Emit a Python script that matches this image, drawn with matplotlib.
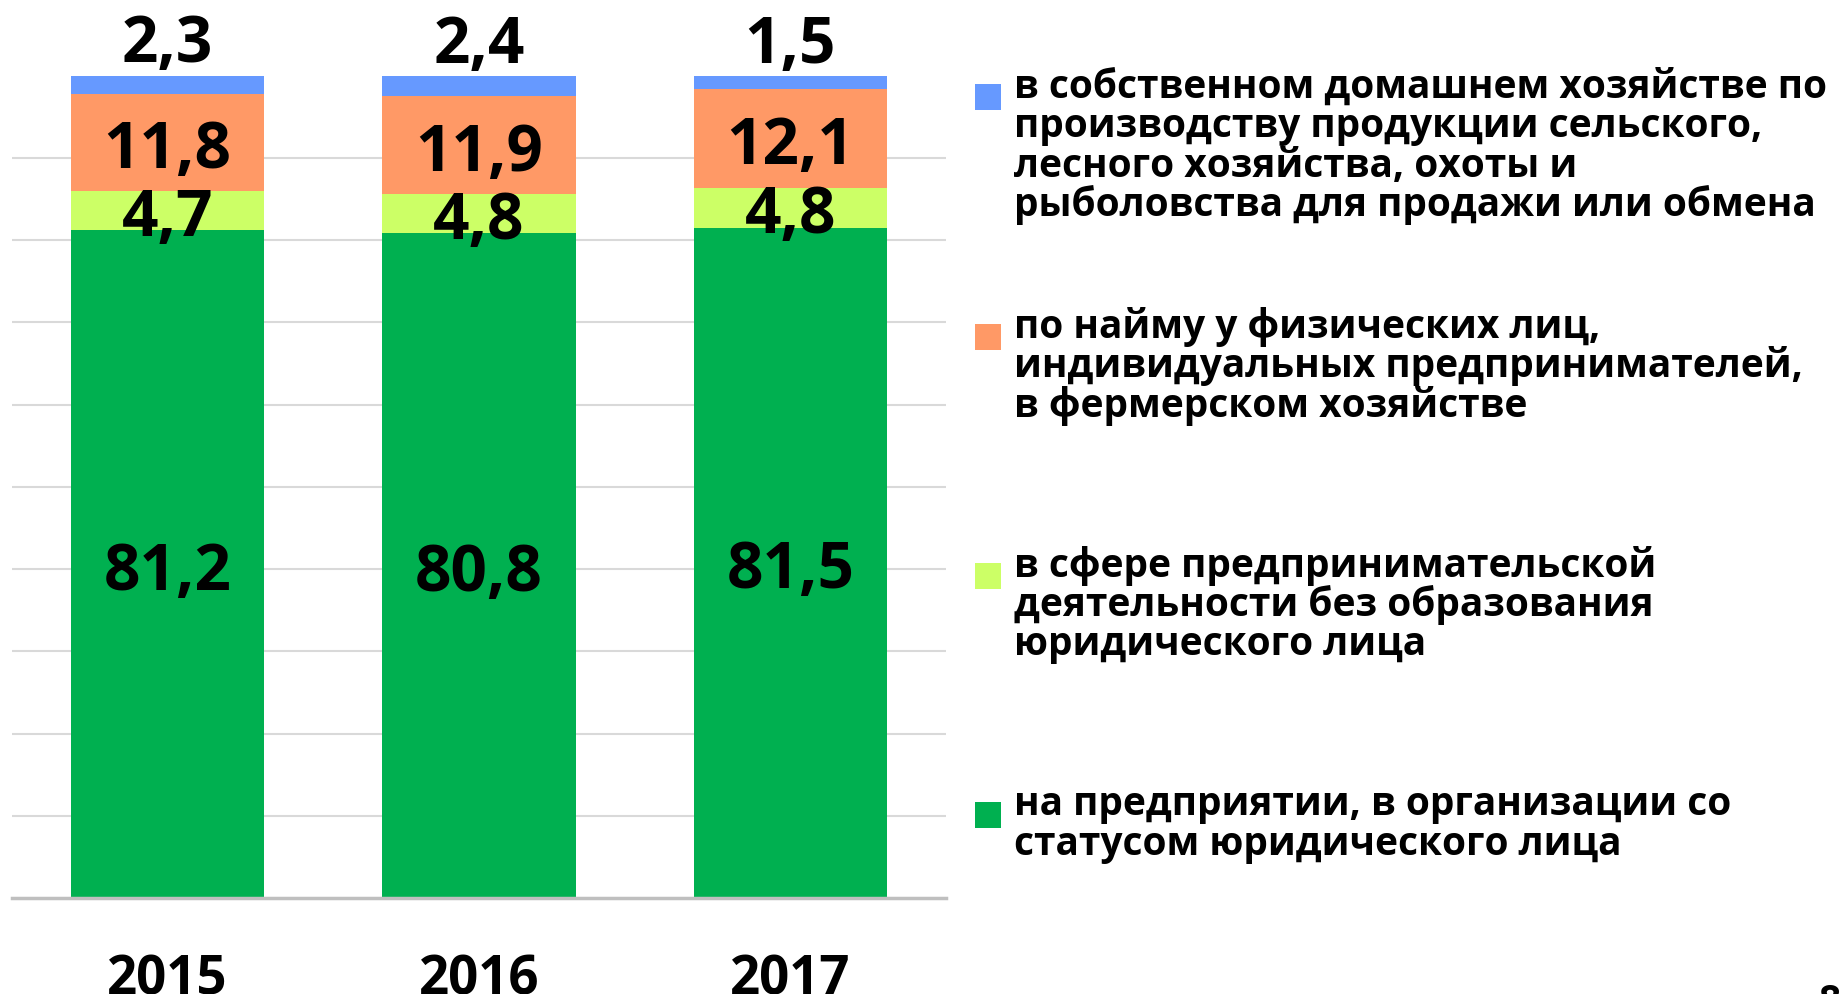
import numpy as np
import matplotlib
matplotlib.use("Agg")
import matplotlib.pyplot as plt
from matplotlib.patches import Rectangle

# bold narrow-ish sans, close to the Calibri look of the slide
plt.rcParams['font.family'] = ['Open Sans', 'DejaVu Sans']
plt.rcParams['font.weight'] = 'bold'

years = ["2015", "2016", "2017"]
legal_entity = [81.2, 80.8, 81.5]   # на предприятии ...
no_entity = [4.7, 4.8, 4.8]         # в сфере предпринимательской ...
hired = [11.8, 11.9, 12.1]          # по найму ...
household = [2.3, 2.4, 1.5]         # в собственном домашнем хозяйстве ...

series_values = [legal_entity, no_entity, hired, household]
series_colors = ["#00B050", "#CCFF66", "#FF9966", "#6699FF"]
series_labels = [
    ["на предприятии, в организации со",
     "статусом юридического лица"],
    ["в сфере предпринимательской",
     "деятельности без образования",
     "юридического лица"],
    ["по найму у физических лиц,",
     "индивидуальных предпринимателей,",
     "в фермерском хозяйстве"],
    ["в собственном домашнем хозяйстве по",
     "производству продукции сельского,",
     "лесного хозяйства, охоты и",
     "рыболовства для продажи или обмена"],
]

W, H = 1845, 995
fig = plt.figure(figsize=(W / 100, H / 100), dpi=100)
ax = fig.add_axes([12 / W, 1 - 899 / H, 934 / W, 822.5 / H])

x = np.arange(len(years))
bottom = np.zeros(len(years))
for i, (vals, color) in enumerate(zip(series_values, series_colors)):
    bars = ax.bar(x, vals, width=0.62, bottom=bottom, color=color, zorder=2)
    labels = [f"{v:.1f}".replace(".", ",") for v in vals]
    if i == len(series_values) - 1:
        ax.bar_label(bars, labels=labels, padding=-1, fontsize=46,
                     fontweight='bold')
    else:
        texts = ax.bar_label(bars, labels=labels, label_type='center',
                             fontsize=46, fontweight='bold')
        # centre the digits, not the box with the descender
        for t in texts:
            t.set_va('center_baseline')
    bottom += np.array(vals)

ax.set_xlim(-0.5, 2.5)
ax.set_ylim(0, 100)
ax.set_yticks(np.arange(10, 100, 10))
ax.yaxis.grid(True, color="#D9D9D9", linewidth=1.5, zorder=0)
ax.tick_params(axis='y', left=False, labelleft=False)
ax.set_xticks(x, years)
ax.tick_params(axis='x', length=0, pad=39, labelsize=38)
for s in ['top', 'left', 'right']:
    ax.spines[s].set_visible(False)
ax.spines['bottom'].set_color("#BFBFBF")
ax.spines['bottom'].set_linewidth(2.5)

# legend, drawn by hand: blue on top, green at the bottom
square_centers = [815.5, 576.6, 337.7, 97.7]
pitch = 39.4
sq = 26
for lines, color, yc in zip(series_labels, series_colors, square_centers):
    fig.add_artist(Rectangle((975 / W, 1 - (yc + sq / 2) / H), sq / W, sq / H,
                             facecolor=color, edgecolor='none',
                             transform=fig.transFigure))
    for k, line in enumerate(lines):
        fig.text(1014 / W, 1 - (yc + k * pitch) / H, line, fontsize=28,
                 fontweight='bold', va='baseline', ha='left')

# slide page number, cut by the bottom edge
fig.text(1830 / W, 1 - 983 / H, "8", fontsize=28, fontweight='bold',
         va='top', ha='center')

fig.savefig("out.png", dpi=100)
